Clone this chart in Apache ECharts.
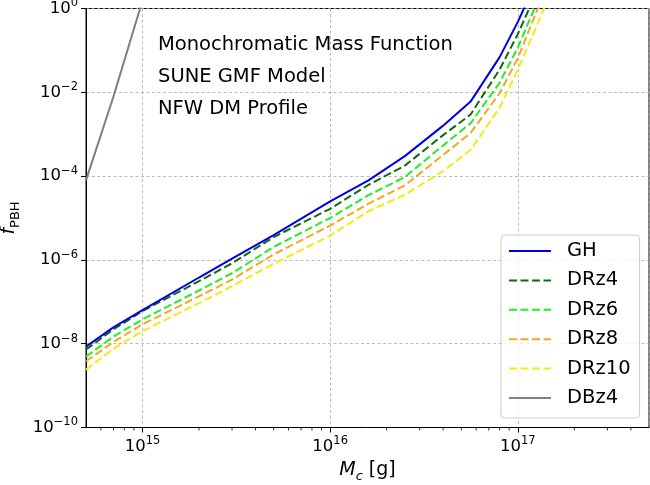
<!DOCTYPE html>
<html>
<head>
<meta charset="UTF-8">
<title>fPBH monochromatic</title>
<script src="https://cdn.jsdelivr.net/npm/echarts@6/dist/echarts.min.js"></script>
<style>
  html, body { margin: 0; padding: 0; background: #fff; }
  #main { width: 650px; height: 485px; }
</style>
</head>
<body>
<div id="main"></div>
<script>
// masses in grams
var masses = [5e14, 7e14, 1e15, 2e15, 3e15, 5e15, 1e16, 1.6e16, 2.5e16, 4e16, 5.6e16, 8e16, 1e17, 1.25e17, 1.6e17];
var fGH    = [8.5e-9, 2.45e-8, 6.3e-8, 3.8e-7, 1.07e-6, 3.9e-6, 2.5e-5, 7.9e-5, 3.0e-4, 1.6e-3, 6.0e-3, 6.9e-2, 0.48, 4.3, 50];
var fDRz4  = [7.2e-9, 2.2e-8, 6.0e-8, 3.1e-7, 8.3e-7, 3.5e-6, 1.66e-5, 6.2e-5, 1.78e-4, 9.5e-4, 2.95e-3, 3.5e-2, 0.245, 2.3, 32];
var fDRz6  = [4.9e-9, 1.48e-8, 3.8e-8, 1.86e-7, 4.8e-7, 2.04e-6, 1.0e-5, 3.5e-5, 9.5e-5, 5.4e-4, 1.82e-3, 1.7e-2, 0.117, 1.23, 20];
var fDRz8  = [3.8e-9, 1.1e-8, 2.9e-8, 1.35e-7, 3.4e-7, 1.35e-6, 6.6e-6, 2.2e-5, 6.0e-5, 3.2e-4, 1.07e-3, 9.5e-3, 6.5e-2, 0.79, 10];
var fDRz10 = [2.4e-9, 7.6e-9, 2.0e-8, 9.3e-8, 2.35e-7, 8.1e-7, 3.8e-6, 1.45e-5, 3.6e-5, 1.32e-4, 4.2e-4, 4.3e-3, 3.5e-2, 0.35, 5];
var massesDBz4 = [5e14, 7e14, 1e15, 2e15];
var fDBz4      = [7.9e-5, 7.9e-3, 1.55, 100];

var xMin = 5e14, xMax = 5e17, yMin = 1e-10, yMax = 1;
var minorTicks = [6e14, 7e14, 8e14, 9e14,
  2e15, 3e15, 4e15, 5e15, 6e15, 7e15, 8e15, 9e15,
  2e16, 3e16, 4e16, 5e16, 6e16, 7e16, 8e16, 9e16,
  2e17, 3e17, 4e17];
var notes = ['Monochromatic Mass Function', 'SUNE GMF Model', 'NFW DM Profile'];

var FONT = 'DejaVu Sans';

function pairs(xs, ys) {
  return xs.map(function (x, i) { return [x, ys[i]]; });
}

function powLabel(v) {
  var e = Math.log10(v);
  var r = Math.round(e);
  if (Math.abs(e - r) > 1e-6) return '';
  return '{b|10}{s|' + (r < 0 ? '\u2212' + (-r) : r) + '}';
}

var tickRich = {
  b: { fontFamily: FONT, fontSize: 16.5, lineHeight: 22, verticalAlign: 'middle', color: '#000' },
  s: { fontFamily: FONT, fontSize: 11.5, lineHeight: 16, verticalAlign: 'top', color: '#000' }
};
var nameRich = {
  i: { fontFamily: FONT, fontSize: 19, fontStyle: 'italic', lineHeight: 26, verticalAlign: 'middle', color: '#000' },
  r: { fontFamily: FONT, fontSize: 19, lineHeight: 26, verticalAlign: 'middle', color: '#000' },
  s: { fontFamily: FONT, fontSize: 13, lineHeight: 13, verticalAlign: 'bottom', color: '#000' },
  si: { fontFamily: FONT, fontSize: 13, fontStyle: 'italic', lineHeight: 13, verticalAlign: 'bottom', color: '#000' }
};
var gridLine = { show: true, lineStyle: { color: '#a8a8a8', width: 0.8, type: [3, 2.5] } };

function dashed(name, ys, color) {
  return {
    name: name, type: 'line', data: pairs(masses, ys), symbol: 'none',
    lineStyle: { color: color, width: 2, type: [8, 3.5] }, itemStyle: { color: color }, z: 3
  };
}

var myChart = echarts.init(document.getElementById('main'), null, { renderer: 'canvas' });

var option = {
  animation: false,
  backgroundColor: '#fff',
  grid: {
    left: 86, right: 1, top: 8.5, bottom: 57.5, outerBoundsMode: 'none',
    show: true, borderColor: '#000', borderWidth: 1
  },
  xAxis: {
    type: 'log', logBase: 10, min: xMin, max: xMax,
    name: '{i|M}{si|c}{r| [g]}', nameLocation: 'middle', nameGap: 30,
    nameTextStyle: { rich: nameRich },
    axisLine: { lineStyle: { color: '#000', width: 1 } },
    axisTick: { length: 5, lineStyle: { color: '#000' } },
    axisLabel: { formatter: powLabel, rich: tickRich, margin: 8, showMinLabel: false, showMaxLabel: false },
    splitLine: gridLine
  },
  yAxis: {
    type: 'log', logBase: 10, min: yMin, max: yMax, interval: 2,
    name: '{i|f}{s|PBH}', nameLocation: 'middle', nameGap: 62, nameRotate: 90,
    nameTextStyle: { rich: nameRich },
    axisLine: { lineStyle: { color: '#000', width: 1 } },
    axisTick: { length: 5, lineStyle: { color: '#000' } },
    axisLabel: { formatter: powLabel, rich: tickRich, margin: 8 },
    splitLine: gridLine
  },
  legend: {
    data: ['GH', 'DRz4', 'DRz6', 'DRz8', 'DRz10', 'DBz4'],
    orient: 'vertical', left: 501, top: 235,
    itemWidth: 42, itemHeight: 14, itemGap: 9.4,
    padding: [6, 9, 10, 7],
    itemStyle: { opacity: 0 },
    backgroundColor: 'rgba(255,255,255,0.8)', borderColor: '#cccccc', borderWidth: 1, borderRadius: 4,
    textStyle: { fontFamily: FONT, fontSize: 19.5, lineHeight: 20, color: '#000', padding: [0, 0, 0, 11] }
  },
  graphic: notes.map(function (t, i) {
    return {
      type: 'text', x: 158, y: 44.5 + i * 32,
      style: { text: t, font: '19.5px "DejaVu Sans"', fill: '#000', verticalAlign: 'middle' }
    };
  }),
  series: [
    {
      name: 'GH', type: 'line', data: pairs(masses, fGH), symbol: 'none',
      lineStyle: { color: '#0000e6', width: 2 }, itemStyle: { color: '#0000e6' }, z: 4
    },
    dashed('DRz4', fDRz4, '#0b6e0b'),
    dashed('DRz6', fDRz6, '#22ee22'),
    dashed('DRz8', fDRz8, '#f5a623'),
    dashed('DRz10', fDRz10, '#f2ea14'),
    {
      name: 'DBz4', type: 'line', data: pairs(massesDBz4, fDBz4), symbol: 'none',
      lineStyle: { color: '#808080', width: 2 }, itemStyle: { color: '#808080' }
    },
    {
      // minor ticks on the log x axis
      name: 'minor', type: 'custom', silent: true, clip: false,
      data: minorTicks.map(function (m) { return [m, yMin]; }),
      renderItem: function (params, api) {
        var p = api.coord([api.value(0), api.value(1)]);
        return {
          type: 'line',
          shape: { x1: p[0], y1: p[1], x2: p[0], y2: p[1] + 3 },
          style: { stroke: '#000', lineWidth: 0.8 }
        };
      }
    }
  ]
};

myChart.setOption(option);
</script>
</body>
</html>
